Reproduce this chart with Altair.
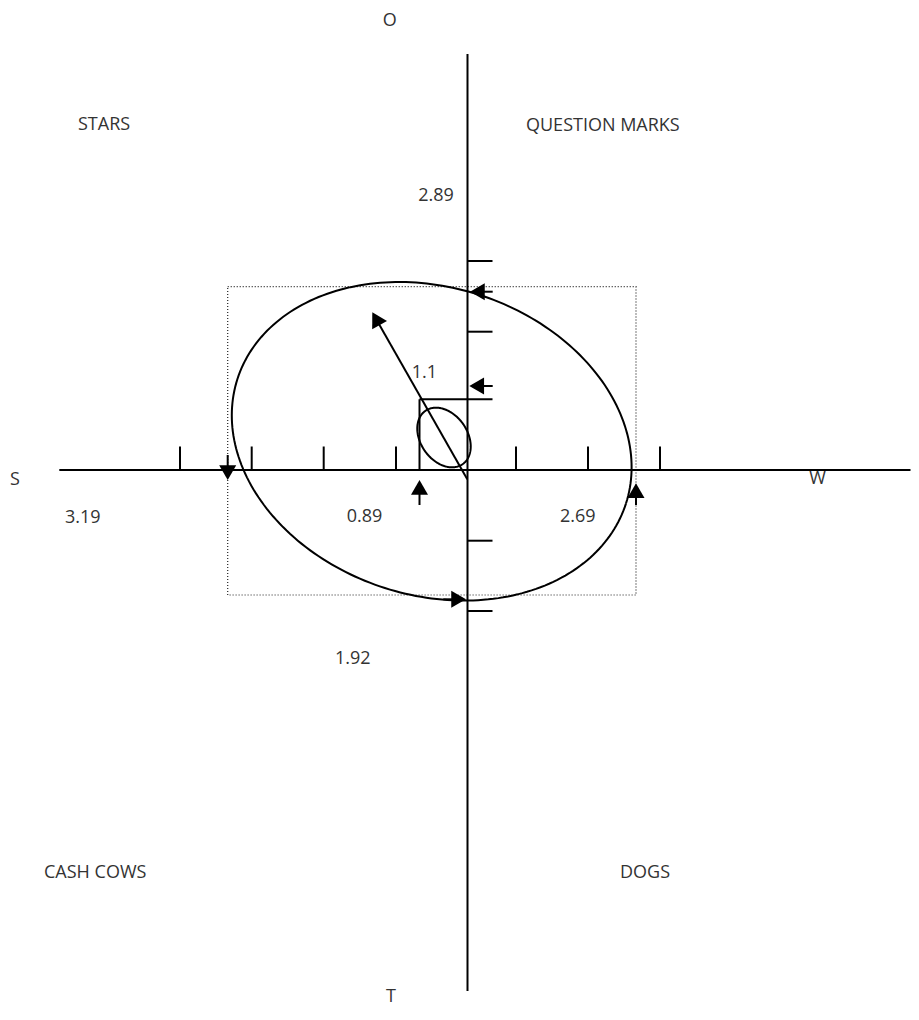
import numpy as np
import pandas as pd
import altair as alt

# Diagram coordinates: origin at the axes crossing, x to the right, y upwards (1 unit = 1 px)

# Axes, ticks and the right-angle guide
axis_ticks_h = [-287.5, -215.8, -143.8, -71.5, 48.5, 120.5, 192.5]
axis_ticks_v = [209.0, 138.3, -70.7, -141.0]
h_axis = [-408.2, 443.0]
v_axis = [416.0, -521.0]
guide_corner = [-48.0, 70.7]

# Dotted box (S, W, O, T extents)
box_x = [-239.8, 168.5]
box_y = [-125.0, 183.3]

# Ellipses: centre x, centre y, semi-major, semi-minor, rotation (deg)
ell_name = ["big", "small"]
ell_cx = [-35.8, -23.5]
ell_cy = [28.7, 32.5]
ell_a = [204.0, 32.5]
ell_b = [154.0, 23.4]
ell_rot = [-17.7, -55.1]

# Arrows: tail -> tip
arrow_tail_x = [-0.2, -48.0, 25.2, 25.2, -239.8, 168.5, -24.2]
arrow_tail_y = [-9.3, -35.0, 84.0, 178.3, 15.0, -35.0, -129.3]
arrow_tip_x = [-95.2, -48.0, 1.8, 2.5, -239.8, 168.5, -1.5]
arrow_tip_y = [157.7, -10.0, 84.0, 178.3, -10.0, -13.3, -129.3]

# Text labels
label_text = ["O", "STARS", "QUESTION MARKS", "2.89", "S", "3.19", "0.89", "2.69",
              "W", "1.1", "1.92", "CASH COWS", "DOGS", "T"]
label_x = [-84.8, -389.5, 58.5, -49.2, -457.5, -402.5, -120.8, 92.5,
           341.8, -55.8, -132.5, -423.5, 152.5, -81.5]
label_y = [444.3, 340.0, 339.3, 269.0, -15.0, -52.7, -51.7, -51.7,
           -14.3, 91.7, -194.0, -408.0, -408.0, -532.0]

XDOM = [-459.5, 443.5]
YDOM = [-538.0, 462.0]
W, H = 903, 1000

xs = alt.Scale(domain=XDOM, nice=False, zero=False)
ys = alt.Scale(domain=YDOM, nice=False, zero=False)

# ---- build tables ----
segs = [(h_axis[0], 0, h_axis[1], 0), (0, v_axis[0], 0, v_axis[1])]
for t in axis_ticks_h:
    segs.append((t, 0, t, 23.5))
for t in axis_ticks_v:
    segs.append((0, t, 25, t))
segs.append((guide_corner[0], 0, guide_corner[0], guide_corner[1]))
segs.append((guide_corner[0], guide_corner[1], 25, guide_corner[1]))

HEAD = 290.0
r = np.sqrt(HEAD) / 2
hh = np.sqrt(3) / 2 * r
heads = []
for tx, ty, px, py in zip(arrow_tail_x, arrow_tail_y, arrow_tip_x, arrow_tip_y):
    dx, dy = px - tx, py - ty
    L = np.hypot(dx, dy)
    ux, uy = dx / L, dy / L
    cx, cy = px - hh * ux, py - hh * uy
    ang = np.degrees(np.arctan2(dx, dy)) % 360
    heads.append(dict(x=cx, y=cy, angle=ang))
    segs.append((tx, ty, cx, cy))

seg_df = pd.DataFrame(segs, columns=["x", "y", "x2", "y2"])
head_df = pd.DataFrame(heads)

rows = []
tt = np.linspace(0, 2 * np.pi, 241)
for n, cx, cy, a, b, rot in zip(ell_name, ell_cx, ell_cy, ell_a, ell_b, ell_rot):
    th = np.radians(rot)
    ex = cx + a * np.cos(th) * np.cos(tt) - b * np.sin(th) * np.sin(tt)
    ey = cy + a * np.sin(th) * np.cos(tt) + b * np.cos(th) * np.sin(tt)
    for i, (u, v) in enumerate(zip(ex, ey)):
        rows.append(dict(name=n, i=i, x=u, y=v))
ell_df = pd.DataFrame(rows)

box_df = pd.DataFrame([dict(x=box_x[0], x2=box_x[1], y=box_y[0], y2=box_y[1])])
lab_df = pd.DataFrame(dict(text=label_text, x=label_x, y=label_y))

rules = alt.Chart(seg_df).mark_rule(color="black", strokeWidth=2, clip=False).encode(
    x=alt.X("x:Q", scale=xs, axis=None), y=alt.Y("y:Q", scale=ys, axis=None),
    x2="x2:Q", y2="y2:Q")

box = alt.Chart(box_df).mark_rect(fill=None, fillOpacity=0, stroke="#222", strokeWidth=1.2,
                                  strokeDash=[1, 2]).encode(
    x=alt.X("x:Q", scale=xs, axis=None), y=alt.Y("y:Q", scale=ys, axis=None),
    x2="x2:Q", y2="y2:Q")

ellipses = alt.Chart(ell_df).mark_line(color="black", strokeWidth=2, clip=False).encode(
    x=alt.X("x:Q", scale=xs, axis=None), y=alt.Y("y:Q", scale=ys, axis=None),
    detail="name:N", order="i:Q")

heads_l = alt.Chart(head_df).mark_point(shape="triangle-up", filled=True, size=HEAD,
                                        color="black", opacity=1, strokeWidth=0).encode(
    x=alt.X("x:Q", scale=xs, axis=None), y=alt.Y("y:Q", scale=ys, axis=None),
    angle=alt.Angle("angle:Q", scale=None))

labels = alt.Chart(lab_df).mark_text(align="left", baseline="alphabetic", font="Open Sans",
                                     fontSize=18, color="#333", clip=False).encode(
    x=alt.X("x:Q", scale=xs, axis=None), y=alt.Y("y:Q", scale=ys, axis=None),
    text="text:N")

chart = alt.layer(box, rules, ellipses, heads_l, labels).properties(
    width=W, height=H, padding=0,
    autosize=alt.AutoSizeParams(type="none")
).configure_view(stroke=None)

chart.save("out.html", embed_options={"renderer": "svg", "actions": False})
